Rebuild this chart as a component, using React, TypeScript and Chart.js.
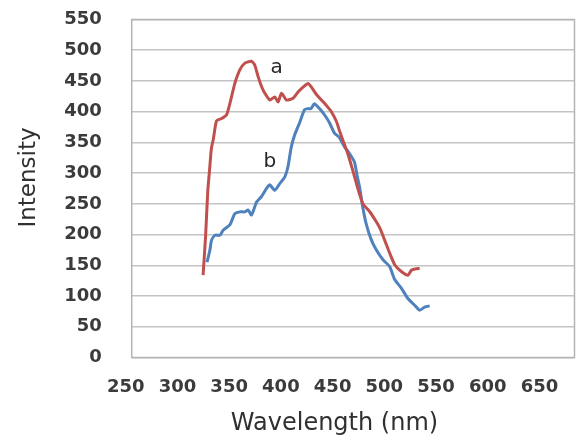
import React, { useEffect, useRef } from "react";
import { Chart, registerables } from "chart.js";

Chart.register(...registerables);

// Emission spectrum a (red)
const wavelengthA = [
  319, 321.5, 323.5, 325.5, 327, 329, 332, 337, 341.7, 345, 349.7, 354.5, 359.4,
  365.8, 368.9, 372.2, 375.5, 378.7, 383.5, 388.3, 391.5, 394.8, 399.6, 406,
  410.8, 415.6, 420.5, 423.7, 428.6, 433.4, 438.2, 443, 447.9, 451, 454, 458.8,
  463.6, 468.4, 473.5, 479.7, 486, 490, 494.5, 499.3, 504.2, 510.6, 517, 520.3,
  524, 528.3,
];
const intensityA = [
  134, 200, 270, 310, 340, 356, 385, 389, 395, 414, 446, 468, 479, 482, 476,
  457, 441, 430, 419, 424, 416, 430, 419, 422, 432, 440, 446, 440, 428, 419,
  410, 400, 384, 368, 354, 332, 305, 276, 250, 238, 222, 210, 191, 170, 151,
  140, 134, 142, 144, 145,
];

// Emission spectrum b (blue)
const wavelengthB = [
  322.8, 325.6, 327.2, 330.4, 335.2, 338.4, 344.9, 349.7, 354.5, 359.4, 362.5,
  365.8, 370.7, 375.5, 380.3, 383.5, 388.3, 393.1, 398, 401, 404.2, 407.5,
  412.3, 417, 420.3, 423.4, 426.6, 431.5, 436.3, 441.2, 446, 450.8, 455.6,
  460.5, 465.3, 468, 470.5, 473.3, 476.6, 481.7, 486.5, 492.9, 499.3, 504.2,
  510.6, 517, 523.5, 528.3, 533.2, 538,
];
const intensityB = [
  155, 175, 191, 199, 199, 207, 216, 234, 237, 237, 240, 232, 253, 262, 275,
  281, 272, 283, 294, 310, 342, 362, 382, 403, 405, 405, 413, 405, 395, 382,
  365, 358, 343, 332, 318, 295, 275, 245, 218, 191, 175, 159, 148, 127, 113,
  96, 85, 77, 82, 84,
];

// Curve names, anchored in data coordinates
const curveNames = ["a", "b"];
const curveNameWavelength = [390, 383.5];
const curveNameIntensity = [471, 318.6];

const xTitle = "Wavelength (nm)";
const yTitle = "Intensity";

const toPoints = (xs: number[], ys: number[]) =>
  xs.map((x, i) => ({ x, y: ys[i] }));

const frameAndText = {
  id: "frameAndText",
  beforeDatasetsDraw(chart: any) {
    const { ctx, chartArea } = chart;
    ctx.save();
    ctx.strokeStyle = "#b4b4b4";
    ctx.lineWidth = 1.5;
    ctx.strokeRect(
      chartArea.left,
      chartArea.top,
      chartArea.right - chartArea.left,
      chartArea.bottom - chartArea.top
    );
    ctx.restore();
  },
  afterDatasetsDraw(chart: any) {
    const { ctx, scales } = chart;
    ctx.save();
    ctx.fillStyle = "#262626";
    ctx.font = '20px "DejaVu Sans"';
    ctx.textAlign = "center";
    ctx.textBaseline = "middle";
    curveNames.forEach((name, i) => {
      ctx.fillText(
        name,
        scales.x.getPixelForValue(curveNameWavelength[i]),
        scales.y.getPixelForValue(curveNameIntensity[i])
      );
    });

    ctx.fillStyle = "#303030";
    ctx.font = '24px "DejaVu Sans"';
    ctx.textBaseline = "alphabetic";
    ctx.fillText(xTitle, 334.5, 430);

    ctx.font = '23px "DejaVu Sans"';
    ctx.translate(34.5, 177.5);
    ctx.rotate(-Math.PI / 2);
    ctx.fillText(yTitle, 0, 0);
    ctx.restore();
  },
};

export default function App() {
  const canvasRef = useRef<HTMLCanvasElement | null>(null);

  useEffect(() => {
    if (!canvasRef.current) return;
    const tickFont = { family: "DejaVu Sans", size: 18, weight: "bold" as const };
    const chart = new Chart(canvasRef.current, {
      type: "line",
      data: {
        datasets: [
          {
            label: "a",
            data: toPoints(wavelengthA, intensityA),
            borderColor: "#C0504D",
            borderWidth: 3,
            pointRadius: 0,
            tension: 0.2,
            fill: false,
          },
          {
            label: "b",
            data: toPoints(wavelengthB, intensityB),
            borderColor: "#4F81BD",
            borderWidth: 3,
            pointRadius: 0,
            tension: 0.2,
            fill: false,
          },
        ],
      },
      options: {
        responsive: false,
        animation: false,
        layout: { padding: { top: 19.5, right: 1.5, left: 0, bottom: 0 } },
        plugins: {
          legend: { display: false },
          tooltip: { enabled: false },
        },
        scales: {
          x: {
            type: "linear",
            min: 250,
            max: 678,
            grid: {
              drawOnChartArea: false,
              drawTicks: true,
              tickLength: 17,
              tickColor: "rgba(0,0,0,0)",
            },
            border: { display: false },
            ticks: {
              stepSize: 50,
              includeBounds: false,
              labelOffset: -6,
              padding: 2,
              maxRotation: 0,
              autoSkip: false,
              color: "#3b3b3b",
              font: tickFont,
            },
            afterFit: (scale: any) => {
              scale.height = 79.5;
            },
          },
          y: {
            min: 0,
            max: 550,
            grid: {
              color: "#c4c4c4",
              lineWidth: 1.5,
              drawTicks: true,
              tickLength: 28,
              tickColor: "rgba(0,0,0,0)",
            },
            border: { display: false },
            ticks: {
              stepSize: 50,
              padding: 2,
              color: "#3b3b3b",
              font: tickFont,
            },
            afterFit: (scale: any) => {
              scale.width = 131.7;
            },
          },
        },
      },
      plugins: [frameAndText],
    });
    return () => chart.destroy();
  }, []);

  return (
    <div
      style={{
        position: "fixed",
        left: 0,
        top: 0,
        width: 576,
        height: 437,
        background: "#ffffff",
        overflow: "hidden",
      }}
    >
      <canvas ref={canvasRef} width={576} height={437} />
    </div>
  );
}
